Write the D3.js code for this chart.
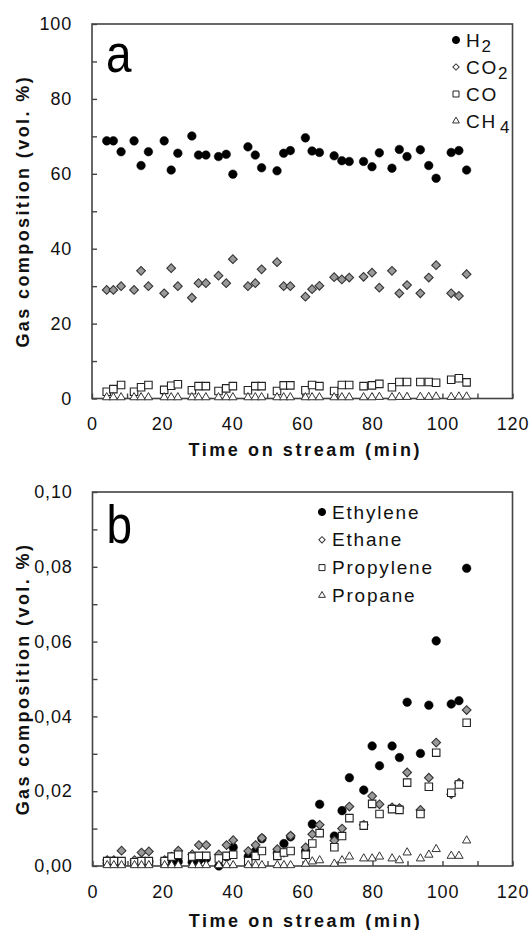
<!DOCTYPE html>
<html><head><meta charset="utf-8">
<script src="https://cdn.jsdelivr.net/npm/d3@7"></script>
<style>
html,body{margin:0;padding:0;background:#fff;}
svg{display:block;font-family:"Liberation Sans",Arial,sans-serif;}
</style></head>
<body><svg id="c" width="531" height="930"></svg>
<script>
// ---------- DATA ----------
const timeMin = [4.2,6.1,8.3, 12,14,16.1, 20.6,22.6,24.5, 28.5,30.4,32.5, 36.1,38.3,40.2, 44.5,46.6,48.4, 52.8,54.7,56.6, 60.9,62.8,64.9, 69.1,71.3,73.4, 77.5,79.9,82, 85.6,87.7,89.9, 93.7,96.1,98.2, 102.5,104.7,106.9];
// panel a (vol. %)
const h2  = [68.8,68.8,65.9, 68.8,62.2,65.9, 68.8,61.0,65.5, 70.1,65.0,65.0, 64.6,65.2,59.9, 67.2,65.0,61.6, 60.8,65.5,66.2, 69.6,66.1,65.7, 64.8,63.5,63.3, 63.3,61.9,65.6, 61.5,66.5,64.6, 66.4,62.2,58.8, 65.7,66.2,61.0];
const co2 = [29.0,29.0,30.0, 29.0,34.1,30.0, 28.1,34.8,30.0, 26.9,30.8,30.8, 32.8,30.8,37.2, 30.0,30.8,34.5, 36.4,30.0,30.0, 27.2,29.2,30.1, 32.4,31.8,32.3, 32.5,33.6,29.6, 34.1,28.1,30.3, 28.1,32.3,35.6, 28.1,27.4,33.2];
const co  = [1.8,2.5,3.6, 1.8,3.0,3.6, 2.3,3.4,3.8, 2.2,3.3,3.3, 2.0,2.7,3.3, 2.2,3.3,3.3, 2.0,3.5,3.5, 2.2,3.6,3.3, 2.0,3.6,3.6, 3.3,3.5,3.9, 3.0,4.4,4.4, 4.4,4.4,4.2, 5.0,5.4,4.3];
const ch4 = [0.3,0.3,0.3, 0.3,0.3,0.3, 0.3,0.3,0.3, 0.3,0.3,0.3, 0.3,0.3,0.3, 0.3,0.3,0.3, 0.3,0.3,0.3, 0.3,0.3,0.3, 0.3,0.3,0.3, 0.3,0.3,0.4, 0.3,0.4,0.4, 0.4,0.4,0.5, 0.4,0.5,0.5];
// panel b (vol. %)
const ethylene  = [0.0008,0.0008,0.0010, 0.0008,0.0010,0.0012, 0.0008,0.0010,0.0012, 0.0010,0.0015,0.0020, 0.0000,0.0025,0.0050, 0.0025,0.0040,0.0073, 0.0035,0.0060,0.0078, 0.0040,0.0112,0.0165, 0.0080,0.0148,0.0236, 0.0203,0.0321,0.0268, 0.0321,0.0290,0.0438, 0.0301,0.0430,0.0602, 0.0433,0.0442,0.0796];
const ethane    = [0.0016,0.0016,0.0041, 0.0016,0.0036,0.0039, 0.0016,0.0025,0.0041, 0.0031,0.0056,0.0056, 0.0031,0.0056,0.0069, 0.0040,0.0056,0.0075, 0.0045,0.0036,0.0081, 0.0050,0.0085,0.0110, 0.0068,0.0100,0.0159, 0.0110,0.0187,0.0165, 0.0157,0.0155,0.0250, 0.0150,0.0236,0.0330, 0.0192,0.0222,0.0417];
const propylene = [0.0013,0.0013,0.0013, 0.0010,0.0013,0.0013, 0.0013,0.0025,0.0030, 0.0025,0.0027,0.0027, 0.0020,0.0027,0.0030, 0.0013,0.0027,0.0040, 0.0027,0.0036,0.0040, 0.0030,0.0060,0.0088, 0.0050,0.0080,0.0128, 0.0108,0.0166,0.0139, 0.0152,0.0150,0.0223, 0.0139,0.0212,0.0303, 0.0196,0.0218,0.0383];
const propane   = [0.0002,0.0002,0.0002, 0.0002,0.0002,0.0002, 0.0002,0.0002,0.0002, 0.0002,0.0002,0.0002, 0.0002,0.0002,0.0002, 0.0002,0.0002,0.0002, 0.0002,0.0002,0.0002, 0.0006,0.0012,0.0015, 0.0006,0.0015,0.0025, 0.0020,0.0020,0.0025, 0.0020,0.0015,0.0036, 0.0020,0.0030,0.0045, 0.0027,0.0027,0.0068];
const xTicks = [0,10,20,30,40,50,60,70,80,90,100,110,120];
const yTicksA = [0,10,20,30,40,50,60,70,80,90,100];
const yTicksB = [0,0.01,0.02,0.03,0.04,0.05,0.06,0.07,0.08,0.09,0.10];
const legendA = ["H","CO","CO","CH"];
const legendASub = ["2","2","","4"];
const legendB = ["Ethylene","Ethane","Propylene","Propane"];
const xTitle = "Time on stream (min)";
const yTitle = "Gas composition (vol. %)";

// ---------- DRAW ----------
const svg = d3.select("#c");
const sym = {
  circle:   {type:d3.symbolCircle,   size:58, fill:"#000", stroke:"#000", sw:0.5, rot:0},
  diamond:  {type:d3.symbolSquare,   size:38, fill:"#999", stroke:"#333", sw:1.1, rot:45},
  square:   {type:d3.symbolSquare,   size:56, fill:"#fff", stroke:"#222", sw:1.1, rot:0},
  triangle: {type:d3.symbolTriangle, size:30, fill:"#fff", stroke:"#333", sw:1.0, rot:0}
};
const legSize = {circle:40, diamond:20, square:36, triangle:20};

function panel(cfg){
  const g = svg.append("g");
  const x = d3.scaleLinear().domain([0,120]).range([cfg.left, cfg.right]);
  const y = d3.scaleLinear().domain(cfg.ydom).range([cfg.bottom, cfg.top]);

  const xa = d3.axisBottom(x).tickValues(xTicks).tickSize(-5).tickPadding(19)
      .tickFormat(d => d % 20 === 0 ? d : "");
  const gx = g.append("g").attr("transform",`translate(0,${cfg.bottom})`).call(xa);
  const ya = d3.axisLeft(y).tickValues(cfg.yticks).tickSize(-5).tickPadding(20)
      .tickFormat(cfg.yfmt);
  const gy = g.append("g").attr("transform",`translate(${cfg.left},0)`).call(ya);
  [gx,gy].forEach(a=>{
    a.select(".domain").remove();
    a.selectAll(".tick line").attr("stroke","#444").attr("stroke-width",1.4);
    a.selectAll(".tick text").attr("fill","#111").style("font-size","18px")
      .style("letter-spacing","0.8px");
  });

  g.append("rect").attr("x",cfg.left).attr("y",cfg.top)
    .attr("width",cfg.right-cfg.left).attr("height",cfg.bottom-cfg.top)
    .attr("fill","none").attr("stroke","#444").attr("stroke-width",1.6);

  cfg.series.forEach(s=>{
    const st = sym[s.shape];
    g.append("g").selectAll("path").data(s.values.map((v,i)=>[timeMin[i],v]))
      .join("path")
      .attr("d", d3.symbol().type(st.type).size(st.size))
      .attr("transform", d=>`translate(${x(d[0])},${y(d[1])}) rotate(${st.rot})`)
      .attr("fill",st.fill).attr("stroke",st.stroke).attr("stroke-width",st.sw);
  });

  // panel letter
  g.append("text").attr("x",cfg.left+14).attr("y",cfg.letterY)
    .attr("transform",`translate(${cfg.left+14},${cfg.letterY}) scale(0.85,1) translate(${-(cfg.left+14)},${-cfg.letterY})`)
    .style("font-size","54px").attr("fill","#000").text(cfg.letter);

  // legend
  cfg.legend.forEach((L,i)=>{
    const st = sym[L.shape];
    const ly = cfg.legY + i*cfg.legStep;
    g.append("path").attr("d", d3.symbol().type(st.type).size(legSize[L.shape]))
      .attr("transform",`translate(${cfg.legX},${ly}) rotate(${st.rot})`)
      .attr("fill", L.shape==="circle" ? "#000" : "#fff")
      .attr("stroke",st.stroke).attr("stroke-width",1);
    const t = g.append("text").attr("x",cfg.legX+10).attr("y",ly+6.5)
      .style("font-size","19px").style("letter-spacing","1.8px").attr("fill","#111");
    t.append("tspan").text(L.label);
    if (L.sub) t.append("tspan").attr("dy",5).attr("dx", L.sub==="4"?3:0).style("font-size","17px").text(L.sub);
  });

  // axis titles
  g.append("text").attr("x",(cfg.left+cfg.right)/2 + 3).attr("y",cfg.xTitleY)
    .attr("text-anchor","middle").style("font-size","18px").style("font-weight","bold")
    .style("letter-spacing","2.6px").attr("fill","#111").text(xTitle);
  const cy = (cfg.top+cfg.bottom)/2;
  g.append("text").attr("transform",`translate(29,${cy}) rotate(-90)`)
    .attr("text-anchor","middle").style("font-size","18px").style("font-weight","bold")
    .style("letter-spacing","2.4px").attr("fill","#111").text(yTitle);
}

panel({
  left:92, right:512.5, top:24, bottom:398.5, ydom:[0,100], yticks:yTicksA,
  yfmt: d => d % 20 === 0 ? d : "",
  series:[{values:h2,shape:"circle"},{values:co2,shape:"diamond"},{values:co,shape:"square"},{values:ch4,shape:"triangle"}],
  letter:"a", letterY:72,
  legend: legendA.map((l,i)=>({label:l, sub:legendASub[i], shape:["circle","diamond","square","triangle"][i]})),
  legX:456, legY:40, legStep:27,
  xTitleY:456
});
panel({
  left:92.5, right:512.5, top:492, bottom:866, ydom:[0,0.10], yticks:yTicksB,
  yfmt: d => (Math.round(d*100) % 2 === 0) ? d3.format(".2f")(d).replace(".",",") : "",
  series:[{values:ethylene,shape:"circle"},{values:ethane,shape:"diamond"},{values:propylene,shape:"square"},{values:propane,shape:"triangle"}],
  letter:"b", letterY:543,
  legend: legendB.map((l,i)=>({label:l, sub:"", shape:["circle","diamond","square","triangle"][i]})),
  legX:322, legY:512, legStep:27.8,
  xTitleY:927
});
</script></body></html>
